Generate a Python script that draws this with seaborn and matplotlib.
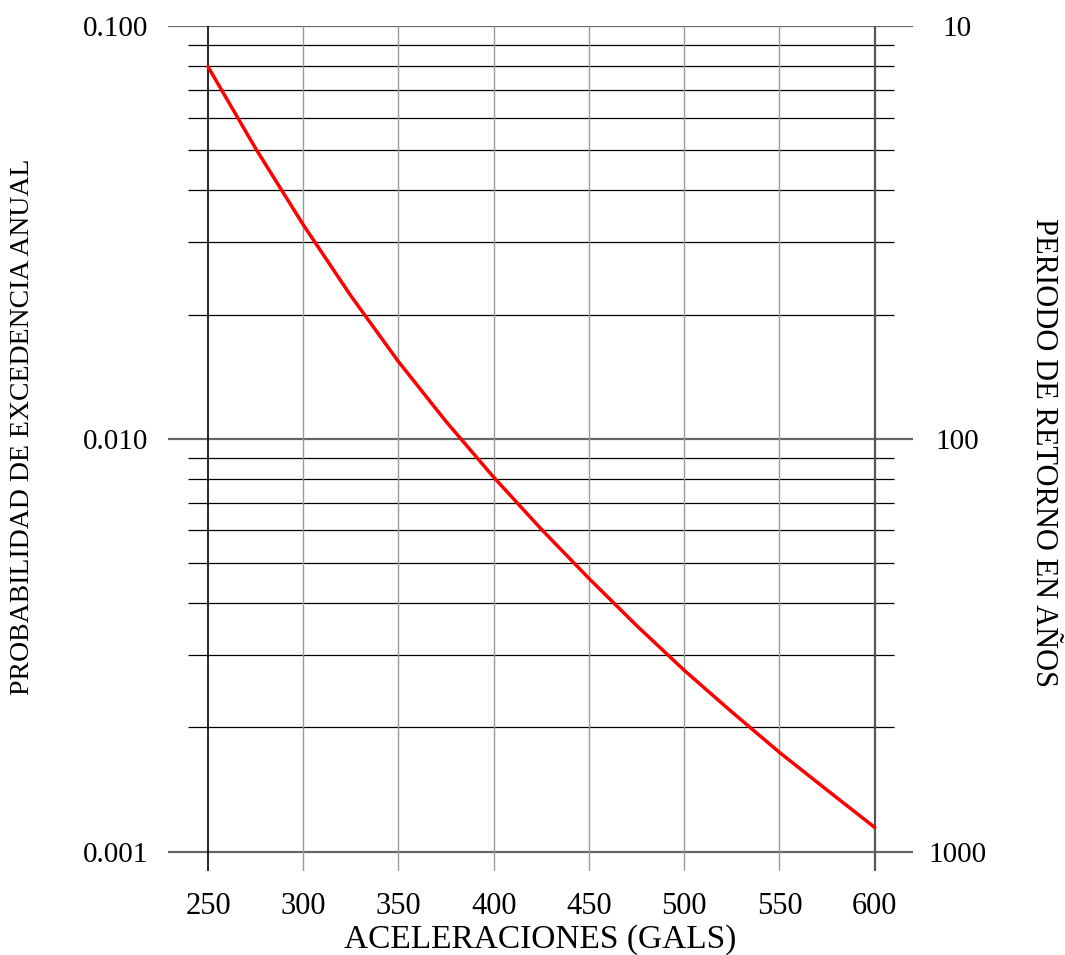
import matplotlib
matplotlib.use("Agg")
import matplotlib.pyplot as plt
import numpy as np
import pandas as pd
import seaborn as sns

# curve (annual exceedance probability vs acceleration)
acc_gals = [250, 275, 300, 325, 350, 375, 400, 425, 450, 475, 500, 525, 550, 575, 600]
prob_exc = [0.0797, 0.0505, 0.0330, 0.0222, 0.01538, 0.01101, 0.00807, 0.00604,
            0.00459, 0.00353, 0.00275, 0.00218, 0.00174, 0.00141, 0.001145]

x_ticks = [250, 300, 350, 400, 450, 500, 550, 600]
y_major = [0.1, 0.01, 0.001]
y_major_labels = ["0.100", "0.010", "0.001"]
y_minor = [m * d for d in (0.001, 0.01) for m in range(2, 10)]
rp_ticks = [10, 100, 1000]
rp_labels = ["10", "100", "1000"]

sns.set_style("white")
plt.rcParams["font.family"] = ["Liberation Serif", "DejaVu Serif"]
plt.rcParams["text.color"] = "black"
plt.rcParams["xtick.color"] = "black"
plt.rcParams["ytick.color"] = "black"
plt.rcParams["axes.labelcolor"] = "black"

df = pd.DataFrame({"acc": acc_gals, "prob": prob_exc})

fig = plt.figure(figsize=(10.65, 9.55), dpi=100)
ax = fig.add_axes([168 / 1065, 1 - 870.7 / 955, 745 / 1065, 844.7 / 955])

x_lo, x_hi = 229.0, 620.1
y_lo, y_hi = 10 ** -3.046, 0.1
ax.set_yscale("log")
ax.set_xlim(x_lo, x_hi)
ax.set_ylim(y_lo, y_hi)

# grid drawn by hand: long grey majors, shorter black minors
ax.hlines(y_major, x_lo, x_hi, colors="#666666", linewidth=1.6, zorder=1)
ax.hlines(y_minor, 239.7, 610.0, colors="black", linewidth=0.9, zorder=1)
vcols = ["black"] + ["#9a9a9a"] * (len(x_ticks) - 2) + ["#555555"]
vwid = [1.2] + [1.0] * (len(x_ticks) - 2) + [1.6]
for xv, c, w in zip(x_ticks, vcols, vwid):
    ax.vlines(xv, y_lo, y_hi, colors=c, linewidth=w, zorder=1)

sns.lineplot(data=df, x="acc", y="prob", color="red", linewidth=2.5, ax=ax, zorder=3)

for s in ax.spines.values():
    s.set_visible(False)
ax.set_xticks(x_ticks)
ax.set_xticklabels([str(v) for v in x_ticks])
ax.set_yticks(y_major)
ax.set_yticklabels(y_major_labels)
ax.yaxis.set_minor_locator(matplotlib.ticker.NullLocator())
ax.tick_params(axis="x", length=0, pad=15, labelsize=22)
ax.tick_params(axis="y", length=0, pad=14, labelsize=21)
ax.set_xlabel("ACELERACIONES (GALS)", fontsize=24, labelpad=3)
ax.set_ylabel("")
ax.grid(False)

ax2 = ax.twinx()
ax2.set_yscale("log")
ax2.set_ylim(1 / y_lo, 1 / y_hi)
ax2.set_yticks(rp_ticks)
ax2.set_yticklabels(rp_labels)
ax2.yaxis.set_minor_locator(matplotlib.ticker.NullLocator())
for s in ax2.spines.values():
    s.set_visible(False)
ax2.tick_params(axis="y", length=0, pad=32, labelsize=21)
for t in ax2.get_yticklabels():
    t.set_horizontalalignment("center")
ax2.grid(False)

fig.text(23 / 1065, 1 - 427 / 955, "PROBABILIDAD DE EXCEDENCIA ANUAL",
         rotation=90, ha="center", va="center", fontsize=20)
fig.text(1043 / 1065, 1 - 452 / 955, "PERIODO DE RETORNO EN AÑOS",
         rotation=-90, ha="center", va="center", fontsize=22)

fig.savefig("out.png", dpi=100)
